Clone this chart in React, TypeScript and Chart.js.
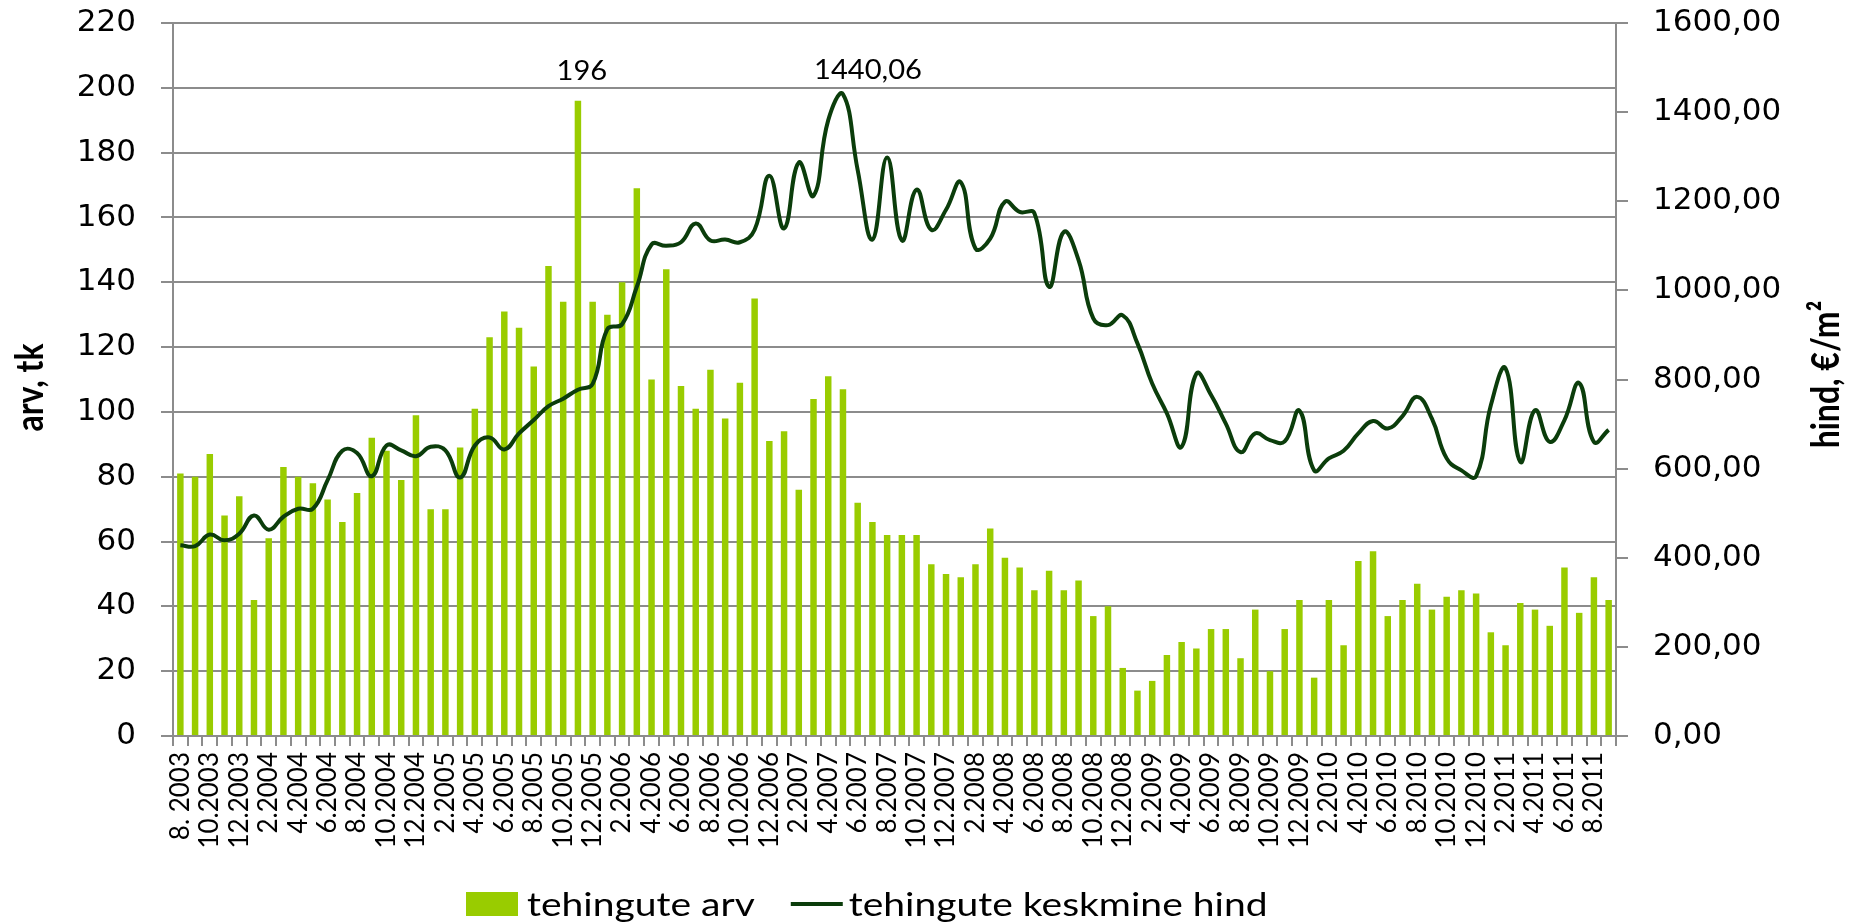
import { useEffect, useRef } from 'react';
import { Chart, registerables } from 'chart.js';

Chart.register(...registerables);

const months: string[] = [
  '8. 2003', '9.2003', '10.2003', '11.2003', '12.2003',
  '1.2004', '2.2004', '3.2004', '4.2004', '5.2004', '6.2004', '7.2004', '8.2004', '9.2004', '10.2004', '11.2004', '12.2004',
  '1.2005', '2.2005', '3.2005', '4.2005', '5.2005', '6.2005', '7.2005', '8.2005', '9.2005', '10.2005', '11.2005', '12.2005',
  '1.2006', '2.2006', '3.2006', '4.2006', '5.2006', '6.2006', '7.2006', '8.2006', '9.2006', '10.2006', '11.2006', '12.2006',
  '1.2007', '2.2007', '3.2007', '4.2007', '5.2007', '6.2007', '7.2007', '8.2007', '9.2007', '10.2007', '11.2007', '12.2007',
  '1.2008', '2.2008', '3.2008', '4.2008', '5.2008', '6.2008', '7.2008', '8.2008', '9.2008', '10.2008', '11.2008', '12.2008',
  '1.2009', '2.2009', '3.2009', '4.2009', '5.2009', '6.2009', '7.2009', '8.2009', '9.2009', '10.2009', '11.2009', '12.2009',
  '1.2010', '2.2010', '3.2010', '4.2010', '5.2010', '6.2010', '7.2010', '8.2010', '9.2010', '10.2010', '11.2010', '12.2010',
  '1.2011', '2.2011', '3.2011', '4.2011', '5.2011', '6.2011', '7.2011', '8.2011', '9.2011',
];

// tehingute arv (left axis)
const dealCounts: number[] = [
  81, 80, 87, 68, 74,
  42, 61, 83, 80, 78, 73, 66, 75, 92, 88, 79, 99,
  70, 70, 89, 101, 123, 131, 126, 114, 145, 134, 196, 134,
  130, 140, 169, 110, 144, 108, 101, 113, 98, 109, 135, 91,
  94, 76, 104, 111, 107, 72, 66, 62, 62, 62, 53, 50,
  49, 53, 64, 55, 52, 45, 51, 45, 48, 37, 40, 21,
  14, 17, 25, 29, 27, 33, 33, 24, 39, 20, 33, 42,
  18, 42, 28, 54, 57, 37, 42, 47, 39, 43, 45, 44,
  32, 28, 41, 39, 34, 52, 38, 49, 42,
];

// tehingute keskmine hind (right axis, €/m²)
const avgPrices: number[] = [
  428, 426, 452, 439, 454,
  495, 463, 492, 510, 510, 574, 640, 635, 583, 652, 641, 628,
  649, 641, 580, 652, 670, 643, 679, 709, 740, 757, 777, 790,
  913, 924, 1008, 1103, 1100, 1108, 1150, 1112, 1114, 1108, 1136, 1257,
  1139, 1287, 1212, 1382, 1440.06, 1270, 1114, 1298, 1112, 1226, 1136, 1181,
  1243, 1094, 1116, 1199, 1176, 1173, 1008, 1131, 1068, 937, 922, 944,
  881, 791, 724, 649, 813, 765, 701, 637, 679, 664, 661, 730,
  596, 623, 640, 679, 707, 690, 718, 761, 712, 623, 596, 583,
  742, 825, 615, 731, 660, 709, 792, 660, 687,
];

const countTicks = { min: 0, max: 220, step: 20 };
const priceTicks = { min: 0, max: 1600, step: 200 };

const seriesNames = ['tehingute arv', 'tehingute keskmine hind'];
const leftTitle = 'arv, tk';
const rightTitle = 'hind, €/m²';

const BAR_COLOR = '#99cc00';
const LINE_COLOR = '#0b3d0b';
const GRID_COLOR = '#8c8c8c';
const STRETCH = 1.22;

const fmtPrice = (v: number) => v.toFixed(2).replace('.', ',');

function stretchedText(ctx: CanvasRenderingContext2D, text: string, x: number, y: number, sx: number) {
  ctx.save();
  ctx.translate(x, y);
  ctx.scale(sx, 1);
  ctx.fillText(text, 0, 0);
  ctx.restore();
}

const extrasPlugin = {
  id: 'extras',
  afterDraw(chart: any) {
    const ctx: CanvasRenderingContext2D = chart.ctx;
    const { top, bottom } = chart.chartArea;
    ctx.save();
    ctx.fillStyle = '#000';

    // axis titles (rotated, reading bottom to top)
    ctx.font = 'bold 32px Lato';
    ctx.textAlign = 'center';
    ctx.textBaseline = 'middle';
    const cy = (top + bottom) / 2;
    ctx.save();
    ctx.translate(30, cy + 8);
    ctx.scale(STRETCH, 1);
    ctx.rotate(-Math.PI / 2);
    ctx.fillText(leftTitle, 0, 0);
    ctx.restore();
    ctx.save();
    ctx.translate(1826, cy - 5);
    ctx.scale(STRETCH, 1);
    ctx.rotate(-Math.PI / 2);
    ctx.fillText(rightTitle, 0, 0);
    ctx.restore();

    // data labels for maxima
    ctx.font = '26px Lato';
    ctx.textAlign = 'center';
    ctx.textBaseline = 'alphabetic';
    const barMeta = chart.getDatasetMeta(0);
    let bi = 0;
    dealCounts.forEach((v, i) => { if (v > dealCounts[bi]) bi = i; });
    const be = barMeta.data[bi];
    stretchedText(ctx, String(dealCounts[bi]), be.x + 4, be.y - 21, 1.12);
    const lineMeta = chart.getDatasetMeta(1);
    let li = 0;
    avgPrices.forEach((v, i) => { if (v > avgPrices[li]) li = i; });
    const le = lineMeta.data[li];
    stretchedText(ctx, fmtPrice(avgPrices[li]), le.x + 25, le.y - 15, 1.12);

    // legend
    ctx.font = '32px Lato';
    ctx.textAlign = 'left';
    ctx.textBaseline = 'middle';
    const ly = 904;
    let x = 466;
    ctx.fillStyle = BAR_COLOR;
    ctx.fillRect(x, ly - 12, 52, 24);
    x += 52 + 9;
    ctx.fillStyle = '#000';
    stretchedText(ctx, seriesNames[0], x, ly + 2, STRETCH);
    x += ctx.measureText(seriesNames[0]).width * STRETCH + 36;
    ctx.strokeStyle = LINE_COLOR;
    ctx.lineWidth = 4;
    ctx.beginPath();
    ctx.moveTo(x, ly);
    ctx.lineTo(x + 52, ly);
    ctx.stroke();
    x += 52 + 6;
    stretchedText(ctx, seriesNames[1], x, ly + 2, STRETCH);
    ctx.restore();
  },
};

export default function App() {
  const ref = useRef<HTMLCanvasElement>(null);

  useEffect(() => {
    if (!ref.current) return;
    const chart = new Chart(ref.current, {
      type: 'bar',
      data: {
        labels: months,
        datasets: [
          {
            type: 'bar',
            label: seriesNames[0],
            data: dealCounts,
            yAxisID: 'y',
            backgroundColor: BAR_COLOR,
            barPercentage: 0.44,
            categoryPercentage: 1,
            order: 1,
          } as any,
          {
            type: 'line',
            label: seriesNames[1],
            data: avgPrices,
            yAxisID: 'y1',
            borderColor: LINE_COLOR,
            borderWidth: 4,
            pointRadius: 0,
            tension: 0.45,
            order: 0,
          } as any,
        ],
      },
      options: {
        responsive: false,
        animation: false,
        layout: { padding: { top: 23, left: 0, right: 0, bottom: 0 } },
        plugins: {
          legend: { display: false },
          tooltip: { enabled: false },
        },
        scales: {
          x: {
            type: 'category',
            offset: true,
            grid: {
              offset: true,
              drawOnChartArea: false,
              drawTicks: true,
              tickLength: 10,
              color: GRID_COLOR,
              lineWidth: 2,
            },
            border: { display: true, color: GRID_COLOR, width: 2 },
            ticks: {
              autoSkip: false,
              maxRotation: 90,
              minRotation: 90,
              padding: 6,
              color: '#000',
              font: { family: 'Lato', size: 26 },
              callback: (_v: any, i: number) => (i % 2 === 0 ? months[i] : ''),
            },
            afterFit: (s: any) => { s.height = 924 - 736; },
          },
          y: {
            position: 'left',
            min: countTicks.min,
            max: countTicks.max,
            ticks: {
              stepSize: countTicks.step,
              padding: 25,
              color: '#000',
              font: { family: 'DejaVu Sans', size: 31 },
            },
            grid: { color: GRID_COLOR, lineWidth: 2, tickLength: 12 },
            border: { display: true, color: GRID_COLOR, width: 2 },
            afterFit: (s: any) => { s.width = 173; s.paddingTop = 0; s.paddingBottom = 0; },
          },
          y1: {
            position: 'right',
            min: priceTicks.min,
            max: priceTicks.max,
            ticks: {
              stepSize: priceTicks.step,
              padding: 25,
              color: '#000',
              font: { family: 'DejaVu Sans', size: 31 },
              callback: (v: any) => fmtPrice(Number(v)),
            },
            grid: { drawOnChartArea: false, color: GRID_COLOR, lineWidth: 2, tickLength: 12 },
            border: { display: true, color: GRID_COLOR, width: 2 },
            afterFit: (s: any) => { s.width = 244; s.paddingTop = 0; s.paddingBottom = 0; },
          },
        },
      } as any,
      plugins: [extrasPlugin],
    });
    return () => chart.destroy();
  }, []);

  return (
    <div style={{ position: 'absolute', left: 0, top: 0, width: 1860, height: 924, background: '#fff' }}>
      <canvas ref={ref} width={1860} height={924} style={{ display: 'block', width: 1860, height: 924 }} />
    </div>
  );
}
